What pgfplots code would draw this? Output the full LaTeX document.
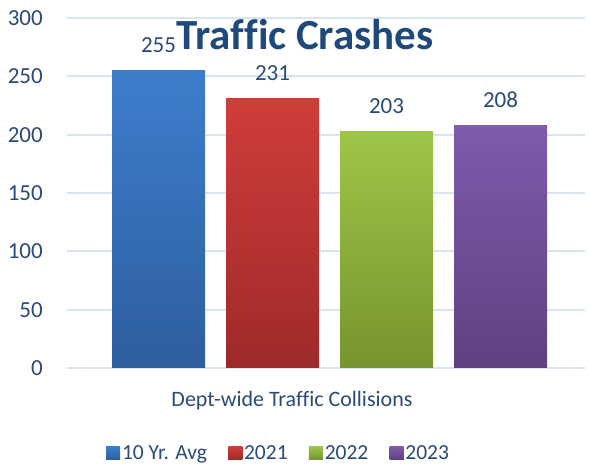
\documentclass[border=0pt]{standalone}
\usepackage{pgfplots}
\pgfplotsset{compat=1.18}
\usepackage{fontspec}
\setmainfont{Carlito}[Ligatures=NoCommon]
\definecolor{txt}{HTML}{2A4A7A}
\definecolor{titlec}{HTML}{1F497D}
\definecolor{gridc}{HTML}{D9E4F2}
\definecolor{blueT}{HTML}{3D7ECC}
\definecolor{blueB}{HTML}{2E5E9E}
\definecolor{redT}{HTML}{D03D39}
\definecolor{redB}{HTML}{9E2A2A}
\definecolor{greenT}{HTML}{9EC647}
\definecolor{greenB}{HTML}{76942F}
\definecolor{purT}{HTML}{7E5BAC}
\definecolor{purB}{HTML}{5F4180}
\begin{document}
\begin{tikzpicture}
\useasboundingbox (-67pt,-97pt) rectangle (522pt,368pt);
\begin{axis}[
  at={(0pt,0pt)}, anchor=south west,
  scale only axis, width=518pt, height=350pt,
  xmin=-0.8026, xmax=3.741, ymin=0, ymax=300,
  ytick={0,50,...,300}, xtick=\empty,
  ymajorgrids, grid style={color=gridc, line width=1.8pt},
  axis line style={draw=none},
  major tick length=0pt,
  /pgf/number format/assume math mode=true,
  yticklabel style={font=\fontsize{23}{27}\selectfont, text=txt, inner sep=0pt, anchor=east, xshift=-24pt},
  ybar, bar width=93pt,
  nodes near coords,
  nodes near coords style={font=\fontsize{23}{27}\selectfont, text=txt, anchor=base, yshift=18pt, inner sep=0pt},
  clip=false,
  legend columns=4,
  legend image code/.code={\fill[#1] (0pt,-6.5pt) rectangle (14pt,6.5pt);},
  legend style={draw=none, fill=none, at={(axis description cs:0.0753,-0.243)}, anchor=west, inner sep=0pt,
    font=\fontsize{21.5}{25}\selectfont, text=txt,
    nodes={inner sep=1.8pt},
    /tikz/every even column/.append style={column sep=19.5pt}},
]
\addplot[bar shift=0pt, draw=none, top color=blueT, bottom color=blueB] coordinates {(0,255)};
\addplot[bar shift=0pt, draw=none, top color=redT, bottom color=redB] coordinates {(1,231)};
\addplot[bar shift=0pt, draw=none, top color=greenT, bottom color=greenB] coordinates {(2,203)};
\addplot[bar shift=0pt, draw=none, top color=purT, bottom color=purB] coordinates {(3,208)};
\legend{10 Yr. Avg, 2021, 2022, 2023}
\node[anchor=base, font=\fontsize{22}{26}\selectfont, text=txt] at (axis description cs:0.4344,-0.1114) {Dept-wide Traffic Collisions};
\node[anchor=base, font=\bfseries\fontsize{43}{50}\selectfont, text=titlec] at (axis description cs:0.4595,0.9086) {Traffic Crashes};
\end{axis}
\end{tikzpicture}
\end{document}
